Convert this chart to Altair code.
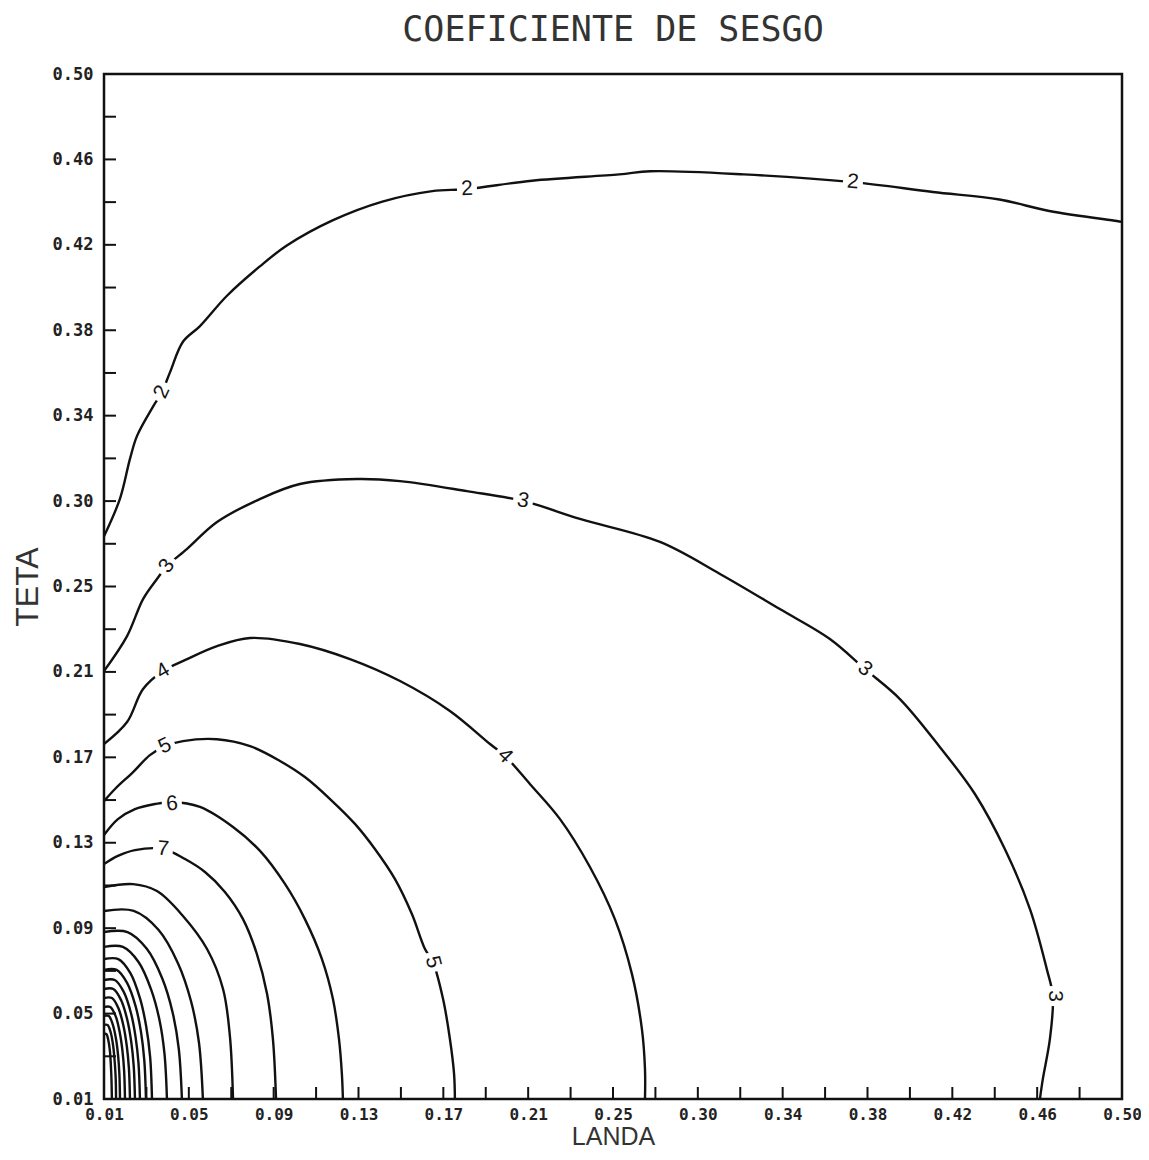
import altair as alt
import pandas as pd

# ---------------- data ----------------
tick_labels = ["0.01", "0.05", "0.09", "0.13", "0.17", "0.21", "0.25",
               "0.30", "0.34", "0.38", "0.42", "0.46", "0.50"]
axis_min, axis_max = 0.01, 0.50

c2_landa = [0.010, 0.0177, 0.0225, 0.0259, 0.0336, 0.0379, 0.0418, 0.048, 0.0562, 0.0692, 0.085, 0.098,
            0.120, 0.144, 0.168, 0.1847, 0.216, 0.258, 0.273, 0.318, 0.3705, 0.409, 0.441, 0.465, 0.4975, 0.50]
c2_teta = [0.279, 0.297, 0.316, 0.327, 0.341, 0.348, 0.3575, 0.372, 0.3795, 0.394, 0.408, 0.418,
           0.430, 0.439, 0.444, 0.445, 0.449, 0.452, 0.4535, 0.452, 0.4483, 0.4436, 0.440, 0.4345, 0.4297, 0.4293]

c3_landa = [0.010, 0.0211, 0.0288, 0.0355, 0.0403, 0.050, 0.0644, 0.085, 0.1043, 0.1318, 0.1525, 0.1847,
            0.2117, 0.2391, 0.2776, 0.3065, 0.3353, 0.3594, 0.3762, 0.3931, 0.4123, 0.4292, 0.4436, 0.4557,
            0.4638, 0.4667, 0.4653, 0.4619, 0.4605]
c3_teta = [0.2146, 0.2313, 0.249, 0.2586, 0.2648, 0.273, 0.2858, 0.2968, 0.304, 0.3064, 0.3054, 0.3006,
           0.2959, 0.2873, 0.2763, 0.261, 0.2442, 0.2299, 0.2156, 0.2012, 0.1783, 0.1558, 0.1295, 0.1008,
           0.0721, 0.0592, 0.0387, 0.0196, 0.010]

c4_landa = [0.010, 0.0211, 0.0288, 0.0384, 0.050, 0.0644, 0.0803, 0.1043, 0.1284, 0.1525, 0.1765, 0.1958,
            0.203, 0.215, 0.2295, 0.2439, 0.2559, 0.2641, 0.2689, 0.2704, 0.2704]
c4_teta = [0.1797, 0.1902, 0.206, 0.2146, 0.2203, 0.2265, 0.2304, 0.2275, 0.2203, 0.2098, 0.1955, 0.1797,
           0.174, 0.1606, 0.1438, 0.1209, 0.096, 0.0698, 0.0435, 0.0243, 0.010]

c5_landa = [0.010, 0.0153, 0.024, 0.0321, 0.0394, 0.048, 0.0644, 0.0803, 0.0947, 0.1067, 0.1188, 0.1308,
            0.1404, 0.150, 0.1582, 0.1645, 0.1683, 0.1732, 0.1765, 0.1785, 0.1789]
c5_teta = [0.1524, 0.1582, 0.1663, 0.1744, 0.1787, 0.1811, 0.182, 0.1787, 0.1716, 0.1639, 0.1534, 0.1415,
           0.1295, 0.1152, 0.0984, 0.0817, 0.0755, 0.0578, 0.0387, 0.022, 0.010]

c6_landa = [0.010, 0.0167, 0.0249, 0.0345, 0.0427, 0.0562, 0.0721, 0.0851, 0.0971, 0.1067, 0.1149, 0.1202,
            0.1231, 0.1245, 0.125]
c6_teta = [0.1362, 0.1438, 0.1486, 0.151, 0.152, 0.1496, 0.140, 0.1286, 0.1128, 0.096, 0.0769, 0.0578,
           0.0387, 0.022, 0.010]

c7_landa = [0.010, 0.0167, 0.0249, 0.0384, 0.049, 0.0586, 0.0682, 0.0769, 0.0836, 0.0885, 0.0913, 0.0928]
c7_teta = [0.1223, 0.1262, 0.129, 0.1295, 0.1247, 0.1185, 0.109, 0.096, 0.0793, 0.0602, 0.0387, 0.010]

c8_landa = [0.010, 0.024, 0.0355, 0.048, 0.0596, 0.0673, 0.0706, 0.0721]
c8_teta = [0.1113, 0.1127, 0.1094, 0.0975, 0.0817, 0.0626, 0.0401, 0.010]

c9_landa = [0.010, 0.0243, 0.0362, 0.0457, 0.0519, 0.0557, 0.0576]
c9_teta = [0.0999, 0.0999, 0.0909, 0.0747, 0.0567, 0.037, 0.010]

c10_landa = [0.010, 0.0213, 0.0306, 0.0381, 0.043, 0.046, 0.0475]
c10_teta = [0.0898, 0.0898, 0.0818, 0.0675, 0.0515, 0.0339, 0.010]

c11_landa = [0.010, 0.0191, 0.0267, 0.0327, 0.0367, 0.0391, 0.0403]
c11_teta = [0.0827, 0.0827, 0.0754, 0.0623, 0.0478, 0.0318, 0.010]

c12_landa = [0.010, 0.0169, 0.0227, 0.0273, 0.0303, 0.0322, 0.0331]
c12_teta = [0.0769, 0.0769, 0.0702, 0.0582, 0.0448, 0.0301, 0.010]

c13_landa = [0.010, 0.0161, 0.0211, 0.0252, 0.0278, 0.0294, 0.0302]
c13_teta = [0.0717, 0.0717, 0.0655, 0.0544, 0.0421, 0.0285, 0.010]

c14_landa = [0.010, 0.0152, 0.0195, 0.023, 0.0252, 0.0266, 0.0273]
c14_teta = [0.0669, 0.0669, 0.0612, 0.051, 0.0396, 0.0271, 0.010]

c15_landa = [0.010, 0.0145, 0.0182, 0.0212, 0.0231, 0.0243, 0.0249]
c15_teta = [0.0626, 0.0626, 0.0573, 0.0479, 0.0374, 0.0258, 0.010]

c16_landa = [0.010, 0.0138, 0.0169, 0.0194, 0.021, 0.022, 0.0225]
c16_teta = [0.0583, 0.0583, 0.0535, 0.0448, 0.0351, 0.0245, 0.010]

c17_landa = [0.010, 0.013, 0.0156, 0.0176, 0.0189, 0.0197, 0.0201]
c17_teta = [0.054, 0.054, 0.0496, 0.0417, 0.0329, 0.0232, 0.010]

c18_landa = [0.010, 0.0123, 0.0142, 0.0158, 0.0168, 0.0174, 0.0177]
c18_teta = [0.0497, 0.0497, 0.0457, 0.0386, 0.0306, 0.0219, 0.010]

c19_landa = [0.010, 0.0117, 0.0132, 0.0144, 0.0151, 0.0156, 0.0158]
c19_teta = [0.0454, 0.0454, 0.0419, 0.0355, 0.0284, 0.0206, 0.010]

c20_landa = [0.010, 0.0111, 0.0121, 0.0129, 0.0133, 0.0136, 0.0138]
c20_teta = [0.0411, 0.0411, 0.038, 0.0324, 0.0262, 0.0193, 0.010]

contours = {
    2: (c2_landa, c2_teta), 3: (c3_landa, c3_teta), 4: (c4_landa, c4_teta),
    5: (c5_landa, c5_teta), 6: (c6_landa, c6_teta), 7: (c7_landa, c7_teta),
    8: (c8_landa, c8_teta), 9: (c9_landa, c9_teta), 10: (c10_landa, c10_teta),
    11: (c11_landa, c11_teta), 12: (c12_landa, c12_teta), 13: (c13_landa, c13_teta),
    14: (c14_landa, c14_teta), 15: (c15_landa, c15_teta), 16: (c16_landa, c16_teta),
    17: (c17_landa, c17_teta), 18: (c18_landa, c18_teta), 19: (c19_landa, c19_teta),
    20: (c20_landa, c20_teta),
}

label_text = ["2", "2", "2", "3", "3", "3", "3", "4", "4", "5", "5", "6", "7"]
label_landa = [0.0379, 0.1847, 0.3705, 0.0403, 0.2117, 0.3762, 0.4677, 0.0384, 0.203, 0.0394, 0.1683, 0.0427, 0.0384]
label_teta = [0.348, 0.445, 0.4483, 0.2648, 0.2959, 0.2156, 0.0592, 0.2146, 0.174, 0.1787, 0.0755, 0.151, 0.1295]
label_angle = [295, 357, 5, 305, 10, 40, 90, 330, 45, 335, 75, 355, 5]

# ---------------- tables ----------------
rows = []
for lev, (xs, ys) in contours.items():
    for i, (xv, yv) in enumerate(zip(xs, ys)):
        rows.append({"level": lev, "idx": i, "landa": xv, "teta": yv})
lines_df = pd.DataFrame(rows)

labels_df = pd.DataFrame({"txt": label_text, "landa": label_landa,
                          "teta": label_teta, "ang": label_angle})

n_int = len(tick_labels) - 1
step = (axis_max - axis_min) / n_int
tick_vals = [axis_min + i * step for i in range(n_int + 1)]
all_ticks = [axis_min + i * step / 2 for i in range(2 * n_int + 1)]
xticks_df = pd.DataFrame({"landa": all_ticks})
yticks_df = pd.DataFrame({"teta": all_ticks})
frame_df = pd.DataFrame({"f": [0]})

label_expr = "[" + ",".join(f"'{t}'" for t in tick_labels) + \
    f"][round((datum.value - {axis_min}) / {step})]"

W, H = 1018, 1025
TICK = 12

xscale = alt.Scale(domain=[axis_min, axis_max], nice=False, zero=False)
yscale = alt.Scale(domain=[axis_min, axis_max], nice=False, zero=False)

tick_font = "DejaVu Sans Mono"
xaxis = alt.Axis(values=tick_vals, labelExpr=label_expr, title="LANDA", grid=False,
                 ticks=False, tickSize=0, domain=False, labelFont=tick_font, labelFontWeight="bold",
                 labelFontSize=16, labelColor="#222", labelPadding=7, labelFlush=False,
                 titleFont="Liberation Sans Narrow, Liberation Sans", titleFontSize=25,
                 titleFontWeight="normal", titleColor="#333", titlePadding=2)
yaxis = alt.Axis(values=tick_vals, labelExpr=label_expr, title="TETA", grid=False,
                 ticks=False, tickSize=0, domain=False, labelFont=tick_font, labelFontWeight="bold",
                 labelFontSize=17, labelColor="#222", labelPadding=11, labelFlush=False,
                 titleFont="Liberation Sans", titleFontSize=32, titleFontWeight="normal",
                 titleColor="#333", titlePadding=8)

lines = alt.Chart(lines_df).mark_line(color="#111", strokeWidth=2.4, interpolate="catmull-rom",
                                      clip=True).encode(
    x=alt.X("landa:Q", scale=xscale, axis=xaxis),
    y=alt.Y("teta:Q", scale=yscale, axis=yaxis),
    detail="level:N",
    order="idx:Q",
)

gaps = alt.Chart(labels_df).mark_point(shape="square", filled=True, color="white", opacity=1,
                                       size=400, strokeWidth=0).encode(
    x=alt.X("landa:Q", scale=xscale),
    y=alt.Y("teta:Q", scale=yscale),
    angle=alt.Angle("ang:Q", scale=None),
)

texts = alt.Chart(labels_df).mark_text(font="Liberation Sans", fontSize=21, color="#151515",
                                       align="center", baseline="middle").encode(
    x=alt.X("landa:Q", scale=xscale),
    y=alt.Y("teta:Q", scale=yscale),
    text="txt:N",
    angle=alt.Angle("ang:Q", scale=None),
)

xticks = alt.Chart(xticks_df).mark_rule(color="#111", strokeWidth=2).encode(
    x=alt.X("landa:Q", scale=xscale),
    y=alt.value(H), y2=alt.value(H - TICK),
)
yticks = alt.Chart(yticks_df).mark_rule(color="#111", strokeWidth=2).encode(
    y=alt.Y("teta:Q", scale=yscale),
    x=alt.value(0), x2=alt.value(TICK),
)

frame = alt.Chart(frame_df).mark_rect(filled=False, stroke="#111", strokeWidth=2.5).encode(
    x=alt.value(0), x2=alt.value(W), y=alt.value(0), y2=alt.value(H),
)

chart = alt.layer(lines, xticks, yticks, gaps, texts, frame).properties(
    width=W, height=H,
    title=alt.TitleParams("COEFICIENTE DE SESGO", font="DejaVu Sans Mono", fontSize=35,
                          fontWeight="normal", color="#333", offset=17, anchor="middle"),
    autosize=alt.AutoSizeParams(type="none"),
    padding={"left": 96, "top": 66, "right": 19, "bottom": 52},
).configure_view(stroke="transparent")

chart.save("out.html", embed_options={"renderer": "svg", "actions": False})
